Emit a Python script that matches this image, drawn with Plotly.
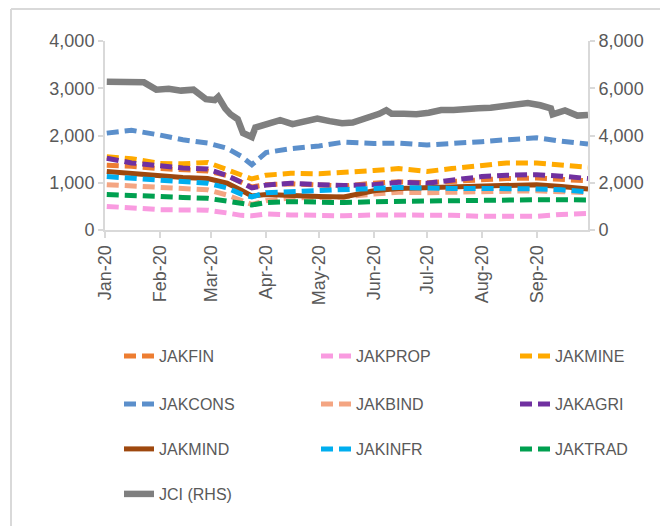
import plotly.graph_objects as go

# ---- data ----
sector_dates = ["2020-01-02", "2020-01-16", "2020-02-01", "2020-02-14", "2020-02-28",
                "2020-03-10", "2020-03-18", "2020-03-24", "2020-04-01", "2020-04-15",
                "2020-05-01", "2020-05-15", "2020-06-01", "2020-06-15", "2020-07-01",
                "2020-07-15", "2020-08-01", "2020-08-15", "2020-09-01", "2020-09-15",
                "2020-09-30"]

jakfin = [1370, 1350, 1300, 1280, 1250, 1150, 1000, 910, 960, 980, 950, 930, 990, 1020,
          1000, 1030, 1070, 1090, 1100, 1080, 1040]
jakprop = [500, 460, 430, 425, 420, 360, 310, 300, 340, 320, 300, 300, 320, 320, 320, 310,
           290, 290, 290, 330, 350]
jakmine = [1550, 1510, 1410, 1400, 1430, 1280, 1150, 1080, 1160, 1200, 1190, 1210, 1260,
           1300, 1240, 1300, 1370, 1420, 1420, 1380, 1330]
jakcons = [2050, 2110, 2010, 1910, 1840, 1730, 1560, 1380, 1640, 1720, 1780, 1860, 1830,
           1840, 1800, 1820, 1870, 1910, 1950, 1880, 1820]
jakbind = [960, 930, 915, 880, 850, 740, 620, 540, 620, 680, 690, 700, 760, 800, 790, 800,
           820, 830, 830, 810, 790]
jakagri = [1520, 1420, 1360, 1310, 1290, 1150, 1010, 890, 950, 990, 960, 940, 960, 1010,
           990, 1060, 1130, 1160, 1170, 1140, 1090]
jakmind = [1240, 1200, 1140, 1110, 1090, 990, 840, 720, 750, 720, 710, 700, 830, 880, 900,
           920, 930, 950, 960, 920, 870]
jakinfr = [1130, 1090, 1050, 1020, 990, 890, 760, 700, 790, 810, 840, 870, 880, 900, 880,
           880, 880, 880, 870, 850, 810]
jaktrad = [750, 740, 710, 690, 670, 610, 560, 530, 580, 600, 590, 580, 600, 610, 610, 620,
           630, 640, 640, 640, 635]

jci_dates = ["2020-01-02", "2020-01-09", "2020-01-16", "2020-01-23", "2020-01-30",
             "2020-02-06", "2020-02-13", "2020-02-20", "2020-02-27", "2020-03-03",
             "2020-03-05", "2020-03-09", "2020-03-12", "2020-03-16", "2020-03-19",
             "2020-03-24", "2020-03-26", "2020-04-01", "2020-04-09", "2020-04-16",
             "2020-04-23", "2020-04-30", "2020-05-07", "2020-05-14", "2020-05-20",
             "2020-05-28", "2020-06-04", "2020-06-08", "2020-06-11", "2020-06-18",
             "2020-06-25", "2020-07-02", "2020-07-09", "2020-07-16", "2020-07-23",
             "2020-07-30", "2020-08-06", "2020-08-13", "2020-08-20", "2020-08-27",
             "2020-09-03", "2020-09-09", "2020-09-10", "2020-09-17", "2020-09-24",
             "2020-09-30"]
jci = [6280, 6275, 6290, 6250, 5940, 5980, 5900, 5940, 5540, 5500, 5640, 5136, 4895, 4690,
       4105, 3937, 4338, 4466, 4649, 4480, 4593, 4716, 4607, 4517, 4546, 4716, 4916, 5070,
       4920, 4925, 4904, 4966, 5076, 5079, 5145, 5149, 5178, 5233, 5272, 5371, 5280, 5149,
       4892, 5058, 4842, 4870]

tick_dates = ["2020-01-01", "2020-02-01", "2020-03-01", "2020-04-01", "2020-05-01",
              "2020-06-01", "2020-07-01", "2020-08-01", "2020-09-01"]
tick_labels = ["Jan-20", "Feb-20", "Mar-20", "Apr-20", "May-20", "Jun-20", "Jul-20",
               "Aug-20", "Sep-20"]

# ---- figure ----
DASH = "12px,6px"
# (name, values, colour, dash, legend column, legend row)
series = [
    ("JAKFIN", jakfin, "#ED7D31", DASH, 0, 0),
    ("JAKPROP", jakprop, "#F99BE0", DASH, 1, 0),
    ("JAKMINE", jakmine, "#FFAA00", DASH, 2, 0),
    ("JAKCONS", jakcons, "#5B8FCB", DASH, 0, 1),
    ("JAKBIND", jakbind, "#F4A582", DASH, 1, 1),
    ("JAKAGRI", jakagri, "#7030A0", DASH, 2, 1),
    ("JAKMIND", jakmind, "#9E480E", "solid", 0, 2),
    ("JAKINFR", jakinfr, "#00AEEF", DASH, 1, 2),
    ("JAKTRAD", jaktrad, "#00A050", DASH, 2, 2),
]

OFF = 8  # page body margin
W, H = 668 - OFF, 526 - OFF
L = 105 - OFF
T = 41 - OFF
R = W - (588 - OFF)
B = H - (230 - OFF)
pw, ph = W - L - R, H - T - B

def px(x):  # page x -> paper
    return (x - OFF - L) / pw

def py(y):  # page y -> paper
    return (H - B - (y - OFF)) / ph

axis_font = dict(family="Liberation Sans", size=18, color="#595959")
leg_font = dict(family="Liberation Sans", size=16, color="#595959")

COL_TEXT_X = [160, 357, 556]
ROW_Y = [356, 404, 449, 494]

def legend_at(col, row):
    return dict(orientation="h", x=px(COL_TEXT_X[col] - 41), xanchor="left",
                y=py(ROW_Y[row]), yanchor="middle",
                font=leg_font, bgcolor="rgba(0,0,0,0)",
                itemclick=False, itemdoubleclick=False)

fig = go.Figure()
legends = {}
for i, (name, vals, color, dash, col, row) in enumerate(series):
    key = "legend" if i == 0 else f"legend{i + 1}"
    legends[key] = legend_at(col, row)
    fig.add_trace(go.Scatter(x=sector_dates, y=vals, name=name, mode="lines",
                             line=dict(color=color, width=5, dash=dash), legend=key))
key = f"legend{len(series) + 1}"
legends[key] = legend_at(0, 3)
fig.add_trace(go.Scatter(x=jci_dates, y=jci, name="JCI (RHS)", mode="lines",
                         line=dict(color="#7F7F7F", width=6.5), yaxis="y2", legend=key))

fig.update_layout(
    width=W, height=H,
    margin=dict(l=L, r=R, t=T, b=B, autoexpand=False),
    paper_bgcolor="white", plot_bgcolor="white",
    showlegend=True,
    **legends,
    xaxis=dict(type="date", range=["2020-01-01", "2020-09-30"],
               tickvals=tick_dates, ticktext=tick_labels, tickangle=-90,
               tickfont=axis_font, showgrid=False, showline=True,
               linecolor="#D9D9D9", linewidth=2, ticks="outside", ticklen=6,
               tickcolor="#D9D9D9", tickwidth=2, zeroline=False),
    yaxis=dict(range=[0, 4000], dtick=1000, tickformat=",", tickfont=axis_font,
               showgrid=False, showline=True, linecolor="#D9D9D9", linewidth=2,
               ticks="outside", ticklen=5, tickcolor="#D9D9D9", tickwidth=2,
               zeroline=False),
    yaxis2=dict(range=[0, 8000], dtick=2000, tickformat=",", tickfont=axis_font,
                overlaying="y", side="right", showgrid=False, showline=True,
                linecolor="#D9D9D9", linewidth=2, ticks="outside", ticklen=5,
                tickcolor="#D9D9D9", tickwidth=2, zeroline=False),
    shapes=[
        dict(type="line", xref="paper", yref="paper", x0=px(11), x1=px(668),
             y0=py(9), y1=py(9), line=dict(color="#D9D9D9", width=2)),
        dict(type="line", xref="paper", yref="paper", x0=px(11), x1=px(11),
             y0=py(9), y1=py(526), line=dict(color="#D9D9D9", width=2)),
    ],
)

fig.write_html("out.html")
